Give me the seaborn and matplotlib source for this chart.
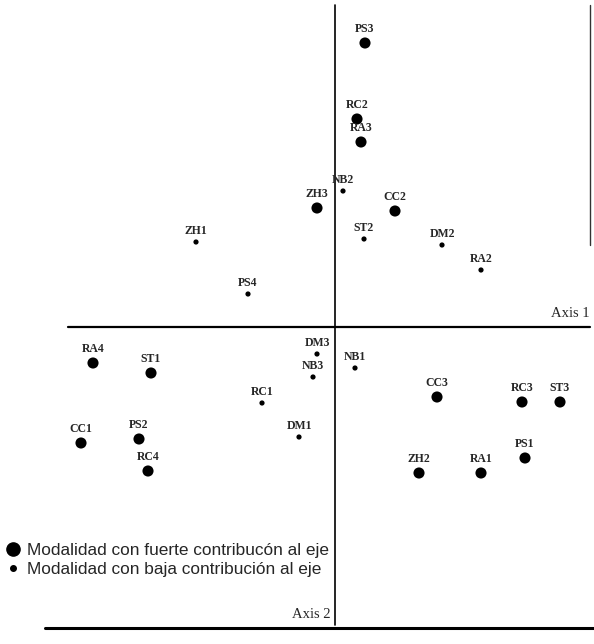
import pandas as pd
import numpy as np
import matplotlib
matplotlib.use("Agg")
import matplotlib.pyplot as plt
from matplotlib.lines import Line2D
import seaborn as sns

# modalities and their coordinates on the two factorial axes
labels = ["PS3", "RC2", "RA3", "NB2", "ZH3", "CC2", "ST2", "ZH1", "DM2", "RA2", "PS4",
          "RA4", "ST1", "DM3", "NB3", "NB1", "RC1", "CC3", "RC3", "ST3",
          "CC1", "PS2", "RC4", "DM1", "PS1", "ZH2", "RA1"]
axis1 = [0.30, 0.22, 0.26, 0.08, -0.18, 0.60, 0.29, -1.39, 1.07, 1.46, -0.87,
         -2.42, -1.84, -0.18, -0.22, 0.20, -0.73, 1.02, 1.87, 2.25,
         -2.54, -1.96, -1.87, -0.36, 1.90, 0.84, 1.46]
axis2 = [2.84, 2.08, 1.85, 1.36, 1.19, 1.16, 0.88, 0.85, 0.82, 0.57, 0.33,
         -0.36, -0.46, -0.27, -0.50, -0.41, -0.76, -0.70, -0.75, -0.75,
         -1.16, -1.12, -1.44, -1.10, -1.31, -1.46, -1.46]
contribution = ["fuerte", "fuerte", "fuerte", "baja", "fuerte", "fuerte", "baja", "baja", "baja", "baja", "baja",
                "fuerte", "fuerte", "baja", "baja", "baja", "baja", "fuerte", "fuerte", "fuerte",
                "fuerte", "fuerte", "fuerte", "baja", "fuerte", "fuerte", "fuerte"]

legend_labels = ["Modalidad con fuerte contribucón al eje",
                 "Modalidad con baja contribución al eje"]


def main():
    df = pd.DataFrame({"label": labels, "x": axis1, "y": axis2, "contrib": contribution})

    sns.set_style("white")
    plt.rcParams["font.family"] = ["Liberation Serif", "DejaVu Serif"]

    fig = plt.figure(figsize=(5.94, 6.44), dpi=100)
    ax = fig.add_axes([0, 0, 1, 1])

    sns.scatterplot(data=df, x="x", y="y", size="contrib",
                    sizes={"fuerte": 64, "baja": 14}, color="black",
                    edgecolor="black", linewidth=0, legend=False, ax=ax)

    for _, r in df.iterrows():
        off = 5.5 if r["contrib"] == "fuerte" else 3.5
        ax.annotate(r["label"], (r["x"], r["y"]), xytext=(0, off),
                    textcoords="offset points", ha="center", va="bottom",
                    fontsize=8.5, fontweight="bold", family="Liberation Serif")

    # axes of the factorial plane
    ax.plot([-2.67, 2.55], [0, 0], color="black", lw=1.6)
    ax.plot([0, 0], [3.22, -2.98], color="black", lw=1.2)
    ax.plot([2.55, 2.55], [3.22, 0.82], color="#333333", lw=1.0)
    ax.plot([-2.90, 2.59], [-3.01, -3.01], color="black", lw=2.2)

    ax.text(2.55, 0.07, "Axis 1", ha="right", va="bottom", fontsize=10.5)
    ax.text(-0.05, -2.88, "Axis 2", ha="right", va="center", fontsize=10.5)

    handles = [Line2D([], [], ls="", marker="o", color="black", markersize=9.5),
               Line2D([], [], ls="", marker="o", color="black", markersize=4)]
    ax.legend(handles, legend_labels, loc="upper left", bbox_to_anchor=(0.0074, 0.157),
              frameon=False, handlelength=1.0, handletextpad=0.31, borderpad=0,
              borderaxespad=0, labelspacing=0.22,
              prop={"family": "Liberation Sans", "size": 12.4})

    ax.set_xlim(-3.35, 2.59)
    ax.set_ylim(-3.17, 3.27)
    ax.axis("off")

    fig.savefig("out.png", dpi=100, facecolor="white")


if __name__ == "__main__":
    main()
